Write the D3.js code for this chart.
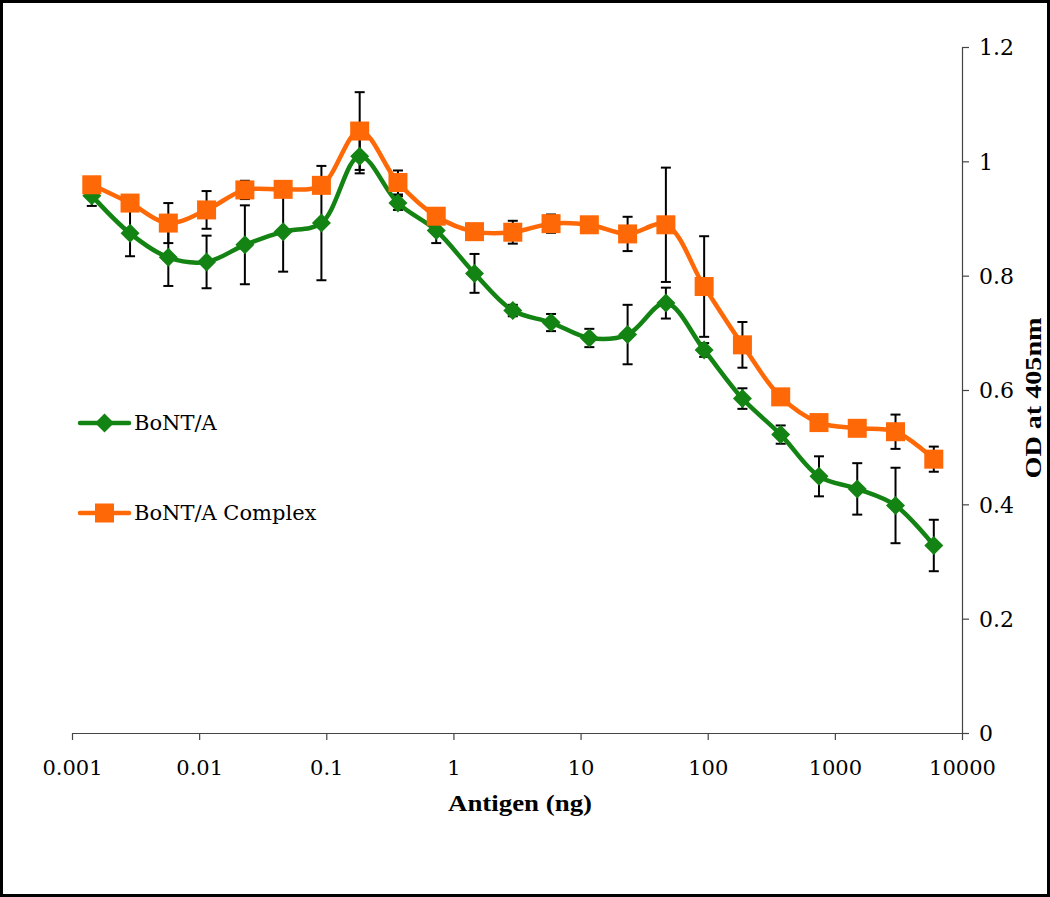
<!DOCTYPE html>
<html>
<head>
<meta charset="utf-8">
<script src="https://cdn.jsdelivr.net/npm/d3@7"></script>
<style>
  html, body { margin: 0; padding: 0; background: #fff; }
  svg { display: block; }
</style>
</head>
<body>
<svg id="chart" width="1050" height="897"></svg>
<script>
// ---- data ----
const antigen = [0.001431, 0.002861, 0.005722, 0.01144, 0.02289, 0.04578, 0.09155, 0.1831, 0.3662, 0.7324,
                 1.465, 2.930, 5.859, 11.72, 23.44, 46.88, 93.75, 187.5, 375, 750, 1500, 3000, 6000];
const bontA = [0.94, 0.874, 0.832, 0.824, 0.854, 0.877, 0.892, 1.009, 0.927, 0.879,
               0.804, 0.739, 0.718, 0.691, 0.697, 0.752, 0.670, 0.585, 0.522, 0.449, 0.427, 0.398, 0.328];
const bontAErr = [0.018, 0.04, 0.05, 0.046, 0.069, 0.07, 0.1, 0.03, 0.012, 0.022,
                  0.034, 0.01, 0.015, 0.016, 0.052, 0.027, 0.012, 0.018, 0.016, 0.035, 0.045, 0.066, 0.045];
const complexA = [0.959, 0.927, 0.892, 0.915, 0.950, 0.951, 0.958, 1.053, 0.963, 0.904,
                  0.877, 0.876, 0.891, 0.889, 0.873, 0.889, 0.781, 0.679, 0.588, 0.543, 0.533, 0.527, 0.479];
const complexAErr = [0.008, 0.012, 0.035, 0.033, 0.016, 0.012, 0.012, 0.068, 0.021, 0.01,
                     0.01, 0.02, 0.016, 0.01, 0.03, 0.1, 0.088, 0.04, 0.012, 0.01, 0.01, 0.03, 0.022];
const seriesNames = ["BoNT/A", "BoNT/A Complex"];
const xTickValues = [0.001, 0.01, 0.1, 1, 10, 100, 1000, 10000];
const xTickLabels = ["0.001", "0.01", "0.1", "1", "10", "100", "1000", "10000"];
const yTickValues = [0, 0.2, 0.4, 0.6, 0.8, 1, 1.2];
const yTickLabels = ["0", "0.2", "0.4", "0.6", "0.8", "1", "1.2"];
const xTitle = "Antigen (ng)";
const yTitle = "OD at 405nm";

// ---- layout ----
const svg = d3.select("#chart");
const W = 1050, H = 897;
const plotL = 72, plotR = 962, plotT = 47, plotB = 733;
const GREEN = "#138313", ORANGE = "#FF6806";
const tickFont = "'DejaVu Serif', serif";

svg.append("rect").attr("x", 1.5).attr("y", 1.5).attr("width", W - 3).attr("height", H - 3)
  .attr("fill", "#fff").attr("stroke", "#000").attr("stroke-width", 3);

const x = d3.scaleLog().domain([0.001, 10000]).range([plotL, plotR]);
const y = d3.scaleLinear().domain([0, 1.2]).range([plotB, plotT]);

// axes
const xAxis = svg.append("g").attr("transform", `translate(0,${plotB})`)
  .call(d3.axisBottom(x).tickValues(xTickValues)
        .tickFormat((d, i) => xTickLabels[i]).tickSizeInner(7).tickSizeOuter(0));
xAxis.select(".domain").attr("stroke", "#444").attr("stroke-width", 1.2);
xAxis.selectAll(".tick line").attr("stroke", "#444").attr("stroke-width", 1.2);
xAxis.selectAll(".tick text").attr("font-family", tickFont).attr("font-size", 21)
  .attr("fill", "#000").attr("dy", "0").attr("y", 42);

const yAxis = svg.append("g").attr("transform", `translate(${plotR},0)`)
  .call(d3.axisRight(y).tickValues(yTickValues)
        .tickFormat((d, i) => yTickLabels[i]).tickSizeInner(7).tickSizeOuter(0));
yAxis.select(".domain").attr("stroke", "#444").attr("stroke-width", 1.2);
yAxis.selectAll(".tick line").attr("stroke", "#444").attr("stroke-width", 1.2);
yAxis.selectAll(".tick text").attr("font-family", tickFont).attr("font-size", 22)
  .attr("fill", "#000").attr("x", 17).attr("dy", "0.35em");

// titles
svg.append("text").attr("x", (plotL + plotR) / 2 + 3).attr("y", 811)
  .attr("text-anchor", "middle").attr("font-family", "'Liberation Serif', serif")
  .attr("font-weight", "bold").attr("font-size", 24)
  .attr("textLength", 144).attr("lengthAdjust", "spacingAndGlyphs").text(xTitle);
svg.append("text").attr("transform", `translate(1041,398) rotate(-90)`)
  .attr("text-anchor", "middle").attr("font-family", "'Liberation Serif', serif")
  .attr("font-weight", "bold").attr("font-size", 23)
  .attr("textLength", 161).attr("lengthAdjust", "spacingAndGlyphs").text(yTitle);

// data
const series = [
  { name: seriesNames[0], vals: bontA, errs: bontAErr, color: GREEN, shape: "diamond" },
  { name: seriesNames[1], vals: complexA, errs: complexAErr, color: ORANGE, shape: "square" }
];

// error bars (behind)
const eb = svg.append("g");
series.forEach(s => {
  antigen.forEach((c, i) => {
    const cx = x(c), y1 = y(s.vals[i] + s.errs[i]), y2 = y(s.vals[i] - s.errs[i]);
    eb.append("line").attr("x1", cx).attr("x2", cx).attr("y1", y1).attr("y2", y2)
      .attr("stroke", "#000").attr("stroke-width", 2);
    [y1, y2].forEach(yy => eb.append("line").attr("x1", cx - 5).attr("x2", cx + 5)
      .attr("y1", yy).attr("y2", yy).attr("stroke", "#000").attr("stroke-width", 2));
  });
});

const line = d3.line().x(d => x(d[0])).y(d => y(d[1])).curve(d3.curveCatmullRom.alpha(0.5));

function marker(g, shape, cx, cy, color) {
  if (shape === "square") {
    g.append("rect").attr("x", cx - 9.5).attr("y", cy - 9.5).attr("width", 19).attr("height", 19)
      .attr("fill", color);
  } else {
    const r = 9.5;
    g.append("path").attr("d", `M${cx},${cy - r}L${cx + r},${cy}L${cx},${cy + r}L${cx - r},${cy}Z`)
      .attr("fill", color);
  }
}

series.forEach(s => {
  const g = svg.append("g");
  g.append("path").datum(antigen.map((c, i) => [c, s.vals[i]]))
    .attr("d", line).attr("fill", "none").attr("stroke", s.color).attr("stroke-width", 4.5);
  antigen.forEach((c, i) => marker(g, s.shape, x(c), y(s.vals[i]), s.color));
});

// legend
const legendY = [423, 513];
series.forEach((s, i) => {
  const g = svg.append("g");
  g.append("line").attr("x1", 80).attr("x2", 129).attr("y1", legendY[i]).attr("y2", legendY[i])
    .attr("stroke", s.color).attr("stroke-width", 4.5).attr("stroke-linecap", "round");
  marker(g, s.shape, 104.5, legendY[i], s.color);
  g.append("text").attr("x", 134).attr("y", legendY[i]).attr("dy", "0.35em")
    .attr("font-family", tickFont).attr("font-size", 21).attr("fill", "#000").text(s.name);
});
</script>
</body>
</html>
